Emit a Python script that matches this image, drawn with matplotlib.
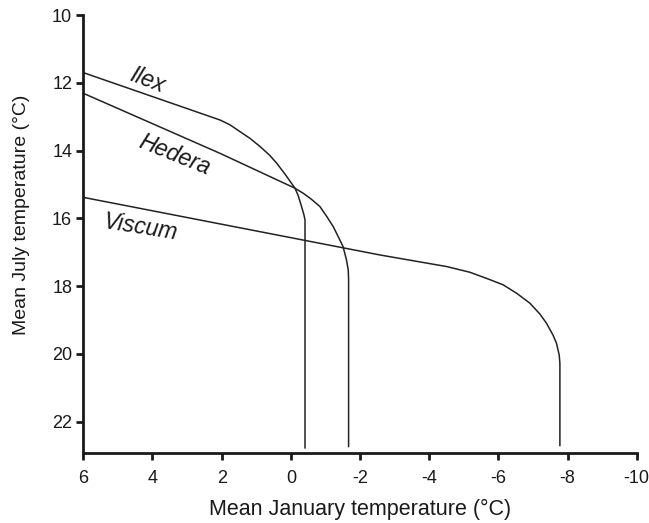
import matplotlib
matplotlib.use("Agg")
import matplotlib.pyplot as plt

plt.rcParams['font.family'] = ['Liberation Sans', 'DejaVu Sans']

ilex_x = [6.0, 2.04, 1.76, 1.47, 1.18, 0.89, 0.61, 0.41, 0.15, -0.12, -0.21, -0.31, -0.38, -0.41, -0.41]
ilex_y = [11.70, 13.10, 13.24, 13.44, 13.64, 13.88, 14.14, 14.37, 14.72, 15.11, 15.32, 15.65, 15.90, 16.05, 22.77]

hedera_x = [6.0, 2.05, -0.12, -0.36, -0.60, -0.84, -1.03, -1.23, -1.37, -1.51, -1.61, -1.66, -1.67, -1.67]
hedera_y = [12.31, 14.08, 15.11, 15.26, 15.44, 15.65, 15.93, 16.25, 16.54, 16.83, 17.23, 17.52, 17.80, 22.73]

viscum_x = [6.0, -2.58, -3.54, -4.50, -5.18, -5.66, -6.14, -6.53, -6.91, -7.20, -7.39, -7.58, -7.68, -7.76, -7.78, -7.78]
viscum_y = [15.38, 17.08, 17.25, 17.42, 17.59, 17.77, 17.96, 18.21, 18.50, 18.82, 19.09, 19.44, 19.68, 20.03, 20.28, 22.70]

labels = ["Ilex", "Hedera", "Viscum"]
label_x = [4.16, 3.35, 4.36]
label_y = [11.93, 14.13, 16.28]
label_rot = [-21, -22, -9]

xticks = [6, 4, 2, 0, -2, -4, -6, -8, -10]
yticks = [10, 12, 14, 16, 18, 20, 22]

fig = plt.figure(figsize=(6.49, 5.23), dpi=100)
ax = fig.add_axes([0.1284, 0.1333, 0.981 - 0.1284, 0.9713 - 0.1333])

lc = '#222222'
for xs, ys in [(ilex_x, ilex_y), (hedera_x, hedera_y), (viscum_x, viscum_y)]:
    ax.plot(xs, ys, color=lc, lw=1.1, solid_joinstyle='round')

for t, x, y, r in zip(labels, label_x, label_y, label_rot):
    ax.text(x, y, t, style='italic', fontsize=16.5, rotation=r,
            ha='center', va='center', color='#1a1a1a',
            rotation_mode='anchor')

ax.set_xlim(6, -10)
ax.set_ylim(22.93, 10)
ax.set_xticks(xticks)
ax.set_xticklabels([str(v) for v in xticks])
ax.set_yticks(yticks)
ax.set_yticklabels([str(v) for v in yticks])

for s in ['top', 'right']:
    ax.spines[s].set_visible(False)
for s in ['left', 'bottom']:
    ax.spines[s].set_linewidth(2.0)
    ax.spines[s].set_color('#1a1a1a')

ax.tick_params(direction='out', length=5, width=2, colors='#1a1a1a',
               labelsize=13)
ax.tick_params(axis='x', pad=7)
ax.tick_params(axis='y', pad=3)

ax.set_xlabel("Mean January temperature (°C)", fontsize=15.5, color='#1a1a1a', va='center')
ax.set_ylabel("Mean July temperature (°C)", fontsize=14, color='#1a1a1a', va='center')
ax.xaxis.set_label_coords(0.5, -0.129)
ax.yaxis.set_label_coords(-0.111, 0.544)

fig.savefig("out.png", dpi=100)
